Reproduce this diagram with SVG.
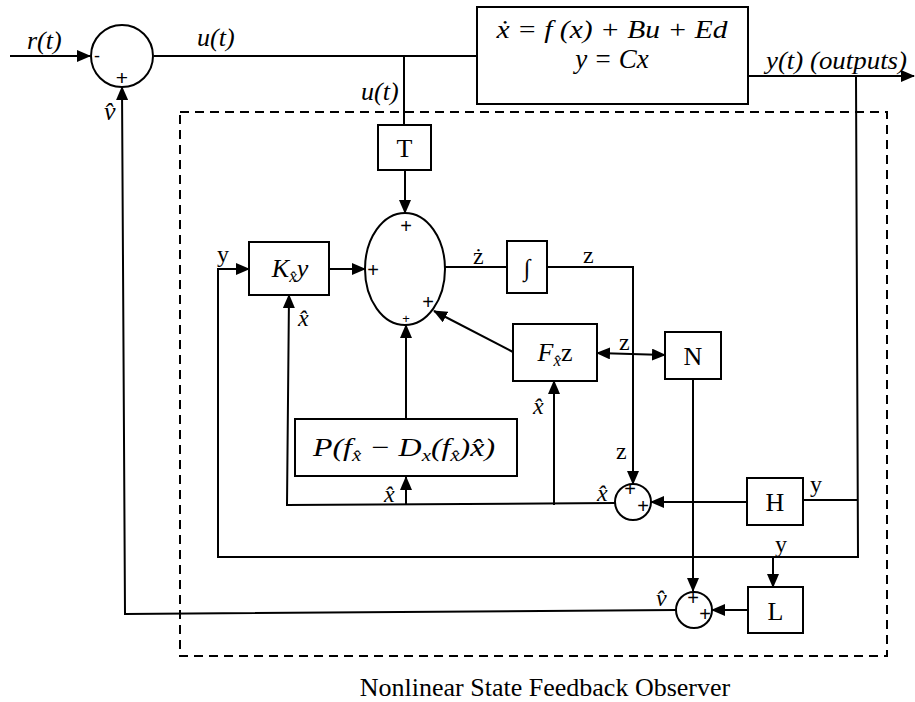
<svg xmlns="http://www.w3.org/2000/svg" width="915" height="702" viewBox="0 0 915 702">
<style>
.box{fill:#fff;stroke:#000;stroke-width:2}
.ln{fill:none;stroke:#000;stroke-width:2}
.arr{fill:none;stroke:#000;stroke-width:2;marker-end:url(#ah)}
.m{font-family:"Liberation Serif",serif;font-style:italic;fill:#000}
.t{font-family:"Liberation Serif",serif;fill:#000}
.s{font-family:"Liberation Sans",sans-serif;fill:#000}
</style>
<defs>
<marker id="ah" markerUnits="userSpaceOnUse" markerWidth="14" markerHeight="12" refX="13" refY="6" orient="auto">
<path d="M0,0 L14,6 L0,12 Z" fill="#000"/>
</marker>
<marker id="ahs" markerUnits="userSpaceOnUse" markerWidth="14" markerHeight="12" refX="1" refY="6" orient="auto">
<path d="M14,0 L0,6 L14,12 Z" fill="#000"/>
</marker>
</defs>
<rect x="0" y="0" width="915" height="702" fill="#fff"/>
<g id="observer-frame">
<rect x="180" y="112" width="707" height="544" fill="none" stroke="#000" stroke-width="2" stroke-dasharray="9,6"/>
</g>
<g id="connectors">
<line class="arr" x1="10" y1="56" x2="90" y2="56"/>
<line class="ln" x1="154" y1="56" x2="477" y2="56"/>
<line class="ln" x1="404" y1="56" x2="404" y2="125"/>
<line class="arr" x1="405" y1="170" x2="405" y2="213"/>
<line class="arr" x1="329" y1="269" x2="365" y2="269"/>
<line class="ln" x1="445" y1="267" x2="507" y2="267"/>
<polyline class="arr" points="547,267 633,267 633,484"/>
<line class="arr" x1="513" y1="352" x2="434" y2="311"/>
<line class="arr" x1="597" y1="353" x2="665" y2="355" marker-start="url(#ahs)"/>
<line class="arr" x1="693" y1="379" x2="693" y2="591"/>
<line class="arr" x1="748" y1="76" x2="914" y2="76"/>
<polyline class="arr" points="856,76 858,557 218,557 218,269 249,269"/>
<line class="ln" x1="857" y1="500" x2="803" y2="500"/>
<line class="arr" x1="747" y1="502" x2="651" y2="502"/>
<polyline class="arr" points="615,503 287,505 289,295"/>
<polyline class="arr" points="554,505 554,381"/>
<line class="arr" x1="406" y1="505" x2="406" y2="477"/>
<line class="arr" x1="406" y1="419" x2="406" y2="325"/>
<line class="arr" x1="773" y1="557" x2="773" y2="587"/>
<line class="arr" x1="748" y1="610" x2="712" y2="610"/>
<polyline class="arr" points="676,610 125,614 122,87"/>
</g>
<g id="sum-input">
<circle cx="122" cy="56" r="31" class="box"/>
<text x="94" y="62" class="s" font-size="18">-</text>
<text x="122" y="85" class="s" font-size="21" text-anchor="middle">+</text>
</g>
<g id="plant">
<rect x="477" y="7" width="271" height="97" class="box"/>
<text x="612" y="38" class="m" text-anchor="middle" font-size="26" textLength="231" lengthAdjust="spacingAndGlyphs">ẋ = f (x) + Bu + Ed</text>
<text x="612" y="68" class="m" text-anchor="middle" font-size="27">y = Cx</text>
</g>
<g id="T">
<rect x="378" y="125" width="53" height="45" class="box"/>
<text x="404.5" y="157" class="t" font-size="26" text-anchor="middle">T</text>
</g>
<g id="sum-ellipse">
<ellipse cx="405" cy="269" rx="40" ry="56" class="box"/>
<text x="406" y="233" class="s" font-size="20" text-anchor="middle">+</text>
<text x="373" y="277" class="s" font-size="20" text-anchor="middle">+</text>
<text x="406" y="323" class="s" font-size="13" text-anchor="middle">+</text>
<text x="428" y="309" class="s" font-size="20" text-anchor="middle">+</text>
</g>
<g id="K">
<rect x="249" y="242" width="80" height="53" class="box"/>
<text x="290" y="277" class="m" font-size="26" text-anchor="middle">K<tspan font-size="17" dy="5">x̂</tspan><tspan dy="-5">y</tspan></text>
</g>
<g id="integrator">
<rect x="507" y="241" width="40" height="52" class="box"/>
<text x="527" y="276" class="t" font-size="24" text-anchor="middle">∫</text>
</g>
<g id="F">
<rect x="513" y="324" width="84" height="57" class="box"/>
<text x="555" y="361" class="m" font-size="26" text-anchor="middle">F<tspan font-size="17" dy="5">x̂</tspan><tspan dy="-5" font-style="normal">z</tspan></text>
</g>
<g id="N">
<rect x="665" y="332" width="56" height="47" class="box"/>
<text x="693" y="365" class="t" font-size="26" text-anchor="middle">N</text>
</g>
<g id="P">
<rect x="295" y="419" width="222" height="57" class="box"/>
<text x="404" y="456" class="m" font-size="26" text-anchor="middle" textLength="182" lengthAdjust="spacingAndGlyphs">P(f<tspan font-size="17" dy="5">x̂</tspan><tspan dy="-5"> − D</tspan><tspan font-size="17" dy="5">x</tspan><tspan dy="-5">(f</tspan><tspan font-size="17" dy="5">x̂</tspan><tspan dy="-5">)x̂)</tspan></text>
</g>
<g id="sum-xhat">
<circle cx="633" cy="502" r="18" class="box"/>
<text x="630" y="496" class="s" font-size="20" text-anchor="middle">+</text>
<text x="643" y="513" class="s" font-size="20" text-anchor="middle">+</text>
</g>
<g id="H">
<rect x="747" y="478" width="56" height="47" class="box"/>
<text x="775" y="511" class="t" font-size="26" text-anchor="middle">H</text>
</g>
<g id="sum-vhat">
<circle cx="694" cy="610" r="18" class="box"/>
<text x="693" y="605" class="s" font-size="20" text-anchor="middle">+</text>
<text x="705" y="621" class="s" font-size="20" text-anchor="middle">+</text>
</g>
<g id="L">
<rect x="748" y="587" width="55" height="46" class="box"/>
<text x="775.5" y="620" class="t" font-size="26" text-anchor="middle">L</text>
</g>
<g id="labels">
<text x="27" y="49" class="m" font-size="26">r(t)</text>
<text x="104" y="120" class="m" font-size="26">v̂</text>
<text x="197" y="46" class="m" font-size="26">u(t)</text>
<text x="361" y="100" class="m" font-size="26">u(t)</text>
<text x="766" y="69" class="m" font-size="26" textLength="141" lengthAdjust="spacingAndGlyphs">y(t) (outputs)</text>
<text x="217" y="262" class="t" font-size="24">y</text>
<text x="298" y="326" class="m" font-size="24">x̂</text>
<text x="473" y="264" class="t" font-size="24">ż</text>
<text x="583" y="263" class="t" font-size="24">z</text>
<text x="619" y="350" class="t" font-size="24">z</text>
<text x="533" y="414" class="m" font-size="24">x̂</text>
<text x="384" y="502" class="m" font-size="24">x̂</text>
<text x="616" y="459" class="t" font-size="24">z</text>
<text x="597" y="501" class="m" font-size="24">x̂</text>
<text x="810" y="492" class="t" font-size="24">y</text>
<text x="775" y="552" class="t" font-size="24">y</text>
<text x="656" y="606" class="m" font-size="24">v̂</text>
<text x="545" y="696" class="t" text-anchor="middle" font-size="26">Nonlinear State Feedback Observer</text>
</g>
</svg>
